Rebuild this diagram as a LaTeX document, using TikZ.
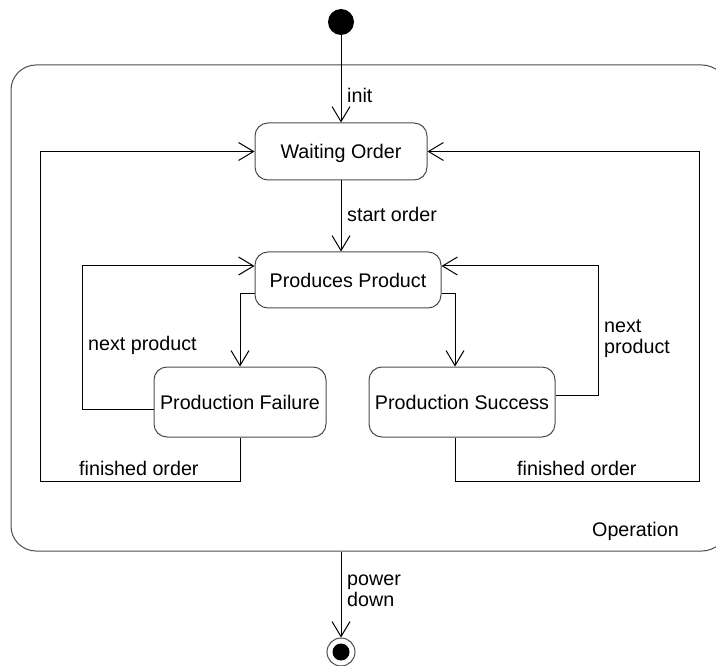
\documentclass[tikz,border=0pt]{standalone}
\usepackage{fontspec}
\setmainfont{Liberation Sans}
\usetikzlibrary{arrows.meta}
\begin{document}
\begin{tikzpicture}[x=1pt,y=-1pt,
  every node/.style={font=\fontsize{19.7}{21}\selectfont},
  state/.style={draw=black!70, line width=1pt, rounded corners=13pt,
    inner sep=0pt, text height=14.1pt, text depth=0pt},
  arr/.style={draw, line width=1pt, -{Straight Barb[length=15pt,width=18pt]}},
  lbl/.style={inner sep=0pt, anchor=base west}
]
\useasboundingbox (0,0) rectangle (716,666);

% composite state
\node[draw=black!70, line width=1pt, rounded corners=25pt, inner sep=0pt,
      minimum width=716pt, minimum height=486pt] (op) at (369,308) {};
\node[lbl] (lop) at (592,536) {Operation};

% pseudo states
\node[circle, fill=black, minimum size=26pt, inner sep=0pt] (init) at (341,22) {};
\node[circle, draw=black!70, line width=1pt, minimum size=28pt, inner sep=0pt] (final) at (341,652) {};
\fill (final.center) circle[radius=8.5pt];

% states
\node[state, minimum width=172pt, minimum height=57pt] (wo) at (341,151.5) {Waiting Order};
\node[state, minimum width=186pt, minimum height=56pt] (pp) at (348,280) {Produces Product};
\node[state, minimum width=172pt, minimum height=70pt] (fail) at (240,402) {Production Failure};
\node[state, minimum width=186pt, minimum height=70pt] (succ) at (462,402) {Production Success};

% routing corners
\coordinate (ln) at (82,409);
\coordinate (rn) at (598,395);
\coordinate (lf) at (40,481);
\coordinate (rf) at (699,481);

% transitions
\draw[arr] (init) -- (wo);
\draw[arr] (wo.south) -- (wo.south |- pp.north);
\draw[arr] ([yshift=-14pt]pp.west) -| (fail.north);
\draw[arr] ([yshift=-14pt]pp.east) -| ([xshift=-7pt]succ.north);
\draw[arr] ([yshift=-7pt]fail.west) -- (ln) |- ([yshift=14pt]pp.west);
\draw[arr] ([yshift=7pt]succ.east) -- (rn) |- ([yshift=14pt]pp.east);
\draw[arr] (fail.south) |- (lf) |- (wo.west);
\draw[arr] ([xshift=-7pt]succ.south) |- (rf) |- (wo.east);
\draw[arr] (op.south -| final) -- (final);

% transition labels
\node[lbl] (linit) at (347,103) {init};
\node[lbl] (lstart) at (347,222) {start order};
\node[lbl] (lnextl) at (88,350) {next product};
\node[lbl] (lnextr1) at (604,332) {next};
\node[lbl] (lnextr2) at (604,353) {product};
\node[lbl] (lfinl) at (79,475) {finished order};
\node[lbl] (lfinr) at (517,475) {finished order};
\node[lbl] (lpow1) at (347,585) {power};
\node[lbl] (lpow2) at (347,606) {down};
\end{tikzpicture}
\end{document}
